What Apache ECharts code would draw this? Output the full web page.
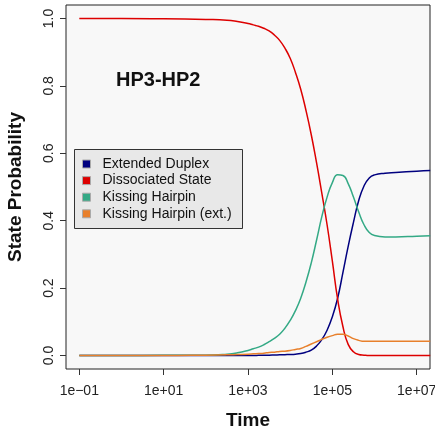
<!DOCTYPE html>
<html>
  <head>
    <meta charset="utf-8">
    <script src="https://cdn.jsdelivr.net/npm/echarts@6/dist/echarts.min.js"></script>
    <style>
      html, body { margin: 0; padding: 0; background: #fff; }
    </style>
  </head>
  <body>
    <div class="chart" style="width:435px;height:429px;"></div>
    <script>
      // sample points, log10(time)
      var logTime = [-1, 0, 1, 2, 2.5, 2.75, 3, 3.125, 3.25, 3.375, 3.5, 3.625, 3.75, 3.875, 4, 4.125, 4.25, 4.375, 4.5, 4.625, 4.75, 4.875, 5, 5.125, 5.25, 5.375, 5.5, 5.625, 5.75, 5.875, 6, 6.25, 6.5, 7, 7.32];

      var extendedDuplex = [0, 0, 0, 0, 0, 0, 0, 0, 0.0005, 0.001, 0.001, 0.0015, 0.002, 0.0025, 0.003, 0.004, 0.006, 0.01, 0.016, 0.028, 0.047, 0.075, 0.115, 0.17, 0.246, 0.324, 0.395, 0.46, 0.503, 0.527, 0.536, 0.541, 0.543, 0.547, 0.549];
      var dissociated = [1.0, 1.0, 0.999, 0.997, 0.995, 0.991, 0.985, 0.981, 0.977, 0.971, 0.963, 0.951, 0.935, 0.912, 0.882, 0.84, 0.79, 0.727, 0.655, 0.572, 0.482, 0.388, 0.28, 0.167, 0.086, 0.033, 0.011, 0.003, 0.001, 0, 0, 0, 0, 0, 0];
      var kissingHairpin = [0, 0, 0.0005, 0.001, 0.004, 0.008, 0.015, 0.02, 0.025, 0.032, 0.041, 0.051, 0.063, 0.081, 0.104, 0.133, 0.17, 0.218, 0.275, 0.342, 0.412, 0.47, 0.513, 0.536, 0.534, 0.51, 0.47, 0.426, 0.388, 0.365, 0.356, 0.352, 0.352, 0.354, 0.355];
      var kissingHairpinExt = [0, 0, 0, 0.001, 0.002, 0.003, 0.004, 0.005, 0.006, 0.007, 0.009, 0.01, 0.012, 0.013, 0.015, 0.018, 0.021, 0.027, 0.034, 0.041, 0.048, 0.054, 0.059, 0.063, 0.063, 0.058, 0.05, 0.045, 0.042, 0.042, 0.042, 0.042, 0.042, 0.042, 0.042];

      var seriesNames = ['Extended Duplex', 'Dissociated State', 'Kissing Hairpin', 'Kissing Hairpin (ext.)'];
      var seriesColors = ['#00007f', '#dd0000', '#33a985', '#e8802c'];
      var seriesValues = [extendedDuplex, dissociated, kissingHairpin, kissingHairpinExt];

      var xTicks = [-1, 1, 3, 5, 7];
      var yTicks = [0, 0.2, 0.4, 0.6, 0.8, 1.0];

      var font = 'Liberation Sans, Arial, sans-serif';

      function pairs(vals) {
        return logTime.map(function (t, i) { return [t, vals[i]]; });
      }

      function expLabel(v) {
        var n = Math.round(v);
        var s = Math.abs(n) < 10 ? '0' + Math.abs(n) : '' + Math.abs(n);
        return '1e' + (n < 0 ? '\u2212' : '+') + s;
      }

      var chart = echarts.init(document.getElementsByClassName('chart')[0], null, { renderer: 'canvas' });

      chart.setOption({
        animation: false,
        backgroundColor: '#ffffff',
        textStyle: { fontFamily: font },
        title: {
          text: 'HP3-HP2',
          left: 116,
          top: 70,
          padding: 0,
          textStyle: { fontSize: 20, fontWeight: 'bold', color: '#111', fontFamily: font }
        },
        grid: {
          left: 66, right: 5, top: 5, bottom: 60,
          outerBoundsMode: 'none',
          containLabel: false,
          show: true,
          backgroundColor: '#f8f8f8',
          borderColor: '#222',
          borderWidth: 1
        },
        graphic: [{
          type: 'rect',
          z: 10,
          shape: { x: 74.5, y: 149.5, width: 168, height: 79 },
          style: { fill: '#e8e8e8', stroke: '#333', lineWidth: 1 }
        }],
        legend: {
          z: 11,
          orient: 'vertical',
          left: 82,
          top: 157,
          padding: 0,
          itemGap: 2.6,
          itemWidth: 8,
          itemHeight: 8,
          icon: 'rect',
          itemStyle: { borderColor: '#aaa', borderWidth: 1 },
          textStyle: { fontSize: 14, lineHeight: 14, color: '#111', fontFamily: font, padding: [0, 0, 0, 7] },
          data: seriesNames
        },
        xAxis: {
          type: 'value',
          min: -1.315,
          max: 7.315,
          name: 'Time',
          nameLocation: 'middle',
          nameGap: 42,
          nameTextStyle: { fontSize: 19, fontWeight: 'bold', color: '#111', fontFamily: font },
          axisLine: { show: false, onZero: false },
          splitLine: { show: false },
          axisTick: { show: true, customValues: xTicks, length: 6, lineStyle: { color: '#333' } },
          axisLabel: { customValues: xTicks, formatter: expLabel, fontSize: 14, color: '#222', margin: 15 }
        },
        yAxis: {
          type: 'value',
          min: -0.04,
          max: 1.04,
          name: 'State Probability',
          nameLocation: 'middle',
          nameRotate: 90,
          nameGap: 41,
          nameTextStyle: { fontSize: 19, fontWeight: 'bold', color: '#111', fontFamily: font },
          axisLine: { show: false, onZero: false },
          splitLine: { show: false },
          axisTick: { show: true, customValues: yTicks, length: 6, lineStyle: { color: '#333' } },
          axisLabel: {
            customValues: yTicks,
            rotate: 90,
            formatter: function (v) { return v.toFixed(1); },
            fontSize: 14, color: '#222', margin: 10
          }
        },
        series: seriesNames.map(function (name, i) {
          return {
            name: name,
            type: 'line',
            data: pairs(seriesValues[i]),
            smooth: 0.5,
            showSymbol: false,
            color: seriesColors[i],
            lineStyle: { width: 1.5, color: seriesColors[i] }
          };
        })
      });
    </script>
  </body>
</html>
